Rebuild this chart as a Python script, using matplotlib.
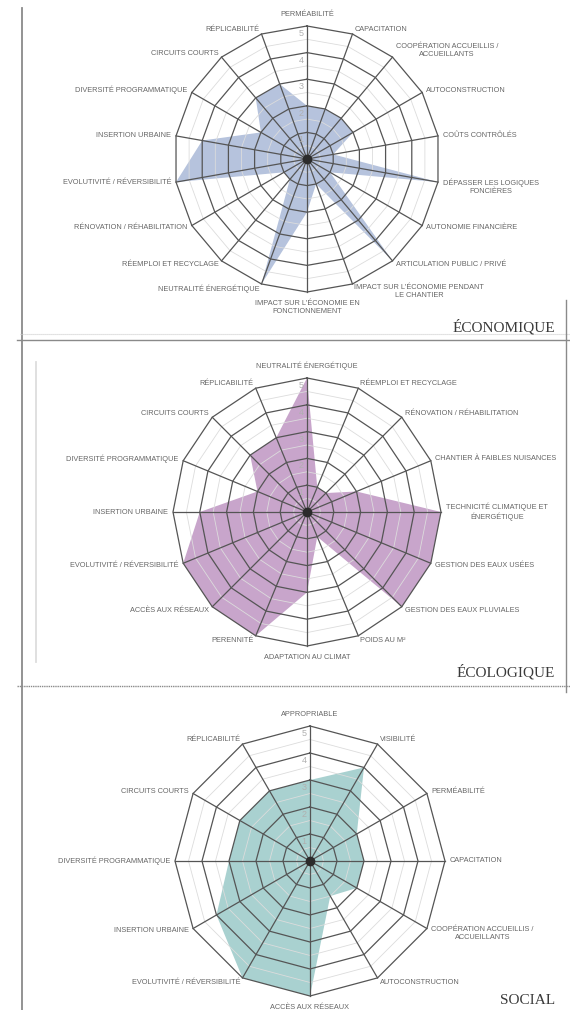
import numpy as np
import matplotlib
matplotlib.use("Agg")
import matplotlib.pyplot as plt
from matplotlib.lines import Line2D

W, H = 570, 1010

# --- data -------------------------------------------------------------------
eco_labels = [
    "PERMÉABILITÉ", "CAPACITATION", "COOPÉRATION ACCUEILLIS /\nACCUEILLANTS",
    "AUTOCONSTRUCTION", "COÛTS CONTRÔLÉS", "DÉPASSER LES LOGIQUES\nFONCIÈRES",
    "AUTONOMIE FINANCIÈRE", "ARTICULATION PUBLIC / PRIVÉ",
    "IMPACT SUR L'ÉCONOMIE PENDANT\nLE CHANTIER",
    "IMPACT SUR L'ÉCONOMIE EN\nFONCTIONNEMENT", "NEUTRALITÉ ÉNERGÉTIQUE",
    "RÉEMPLOI ET RECYCLAGE", "RÉNOVATION / RÉHABILITATION",
    "EVOLUTIVITÉ / RÉVERSIBILITÉ", "INSERTION URBAINE",
    "DIVERSITÉ PROGRAMMATIQUE", "CIRCUITS COURTS", "RÉPLICABILITÉ",
]
eco_values = [2, 2, 2, 2, 1, 5, 1, 5, 1, 2, 5, 1, 1, 5, 4, 2, 3, 3]

ecol_labels = [
    "NEUTRALITÉ ÉNERGÉTIQUE", "RÉEMPLOI ET RECYCLAGE",
    "RÉNOVATION / RÉHABILITATION", "CHANTIER À FAIBLES NUISANCES",
    "TECHNICITÉ CLIMATIQUE ET\nÉNERGÉTIQUE", "GESTION DES EAUX USÉES",
    "GESTION DES EAUX PLUVIALES", "POIDS AU M²", "ADAPTATION AU CLIMAT",
    "PERENNITÉ", "ACCÈS AUX RÉSEAUX", "EVOLUTIVITÉ / RÉVERSIBILITÉ",
    "INSERTION URBAINE", "DIVERSITÉ PROGRAMMATIQUE", "CIRCUITS COURTS",
    "RÉPLICABILITÉ",
]
ecol_values = [5, 1, 1, 2, 5, 5, 5, 1, 3, 5, 5, 5, 4, 2, 3, 3]

soc_labels = [
    "APPROPRIABLE", "VISIBILITÉ", "PERMÉABILITÉ", "CAPACITATION",
    "COOPÉRATION ACCUEILLIS /\nACCUEILLANTS", "AUTOCONSTRUCTION",
    "ACCÈS AUX RÉSEAUX", "EVOLUTIVITÉ / RÉVERSIBILITÉ", "INSERTION URBAINE",
    "DIVERSITÉ PROGRAMMATIQUE", "CIRCUITS COURTS", "RÉPLICABILITÉ",
]
soc_values = [3, 4, 2, 2, 2, 1.5, 5, 5, 4, 3, 3, 3]

levels = [1, 2, 3, 4, 5]
minor_levels = [0.5, 1.5, 2.5, 3.5, 4.5]

LABEL_FONT = ["Liberation Sans", "DejaVu Sans"]
TITLE_FONT = ["Liberation Serif", "DejaVu Serif"]


def radar(fig, cx, cy, r5, labels, values, color):
    lim = 6.5
    side = 2 * r5 * lim / 5
    ax = fig.add_axes([(cx - side / 2) / W, 1 - (cy + side / 2) / H,
                       side / W, side / H])
    ax.set_xlim(-lim, lim)
    ax.set_ylim(-lim, lim)
    ax.axis("off")

    n = len(labels)
    theta = np.arange(n) * 2 * np.pi / n
    s, c = np.sin(theta), np.cos(theta)
    closed = lambda a: np.append(a, a[0])

    v = np.array(values, dtype=float)
    ax.fill(closed(v * s), closed(v * c), color=color, lw=0, zorder=1)

    for lv in minor_levels:
        ax.plot(closed(lv * s), closed(lv * c), color="#dcdcdc", lw=0.6, zorder=2)
    for lv in levels:
        ax.plot(closed(lv * s), closed(lv * c), color="#555555", lw=0.9, zorder=3)
    for i in range(n):
        ax.plot([0, 5 * s[i]], [0, 5 * c[i]], color="#555555", lw=0.9, zorder=3)
    ax.plot(0, 0, "o", color="#2b2b2b", ms=6, zorder=5)

    for lv in levels:
        ax.text(-0.12, lv - 0.28, str(lv), ha="right", va="center",
                fontsize=6.5, color="#b0b0b0", family=LABEL_FONT, zorder=4)

    for i, lab in enumerate(labels):
        multi = "\n" in lab
        if abs(s[i]) < 0.05:
            ha = "center"
            va = "bottom" if c[i] > 0 else "top"
            dx, dy = 0, 6 * np.sign(c[i])
        else:
            ha = "left" if s[i] > 0 else "right"
            dx, dy = 3.5 * s[i], 3.5 * c[i]
            va = "center"
            if multi and c[i] > 0.05:
                va = "bottom"
                dy -= 3.5
            elif multi and c[i] < -0.05:
                va = "top"
                dy += 3.5
        ax.annotate(lab, xy=(5 * s[i], 5 * c[i]), xytext=(dx, dy),
                    textcoords="offset points", ha=ha, va=va,
                    multialignment="center", fontsize=5.3, color="#666666",
                    family=LABEL_FONT, annotation_clip=False)
    return ax


fig = plt.figure(figsize=(W / 100, H / 100), dpi=100)
fig.patch.set_facecolor("white")

radar(fig, 307, 159, 133, eco_labels, eco_values, "#b6c3dd")
radar(fig, 307, 512, 134, ecol_labels, ecol_values, "#c8a5cb")
radar(fig, 310, 861, 135, soc_labels, soc_values, "#a9d1d0")

for txt, y in [("ÉCONOMIQUE", 327), ("ÉCOLOGIQUE", 672), ("SOCIAL", 1000)]:
    fig.text(555 / W, 1 - y / H, txt, ha="right", va="center",
             fontsize=11, color="#3a3a3a", family=TITLE_FONT)


def px_line(x0, y0, x1, y1, **kw):
    fig.add_artist(Line2D([x0 / W, x1 / W], [1 - y0 / H, 1 - y1 / H],
                          transform=fig.transFigure, **kw))


px_line(22, 8, 22, H, color="#8a8a8a", lw=1.3)
px_line(20, 334, W, 334, color="#cfcfcf", lw=0.8, ls=(0, (1, 0.8)))
px_line(17, 340, W, 340, color="#8a8a8a", lw=1.0)
px_line(17, 686, W, 686, color="#8a8a8a", lw=1.0, ls=(0, (1, 0.6)))
px_line(566, 300, 566, 692, color="#8a8a8a", lw=1.0)
px_line(36, 362, 36, 662, color="#dddddd", lw=1.3)

fig.savefig("out.png", dpi=100)
